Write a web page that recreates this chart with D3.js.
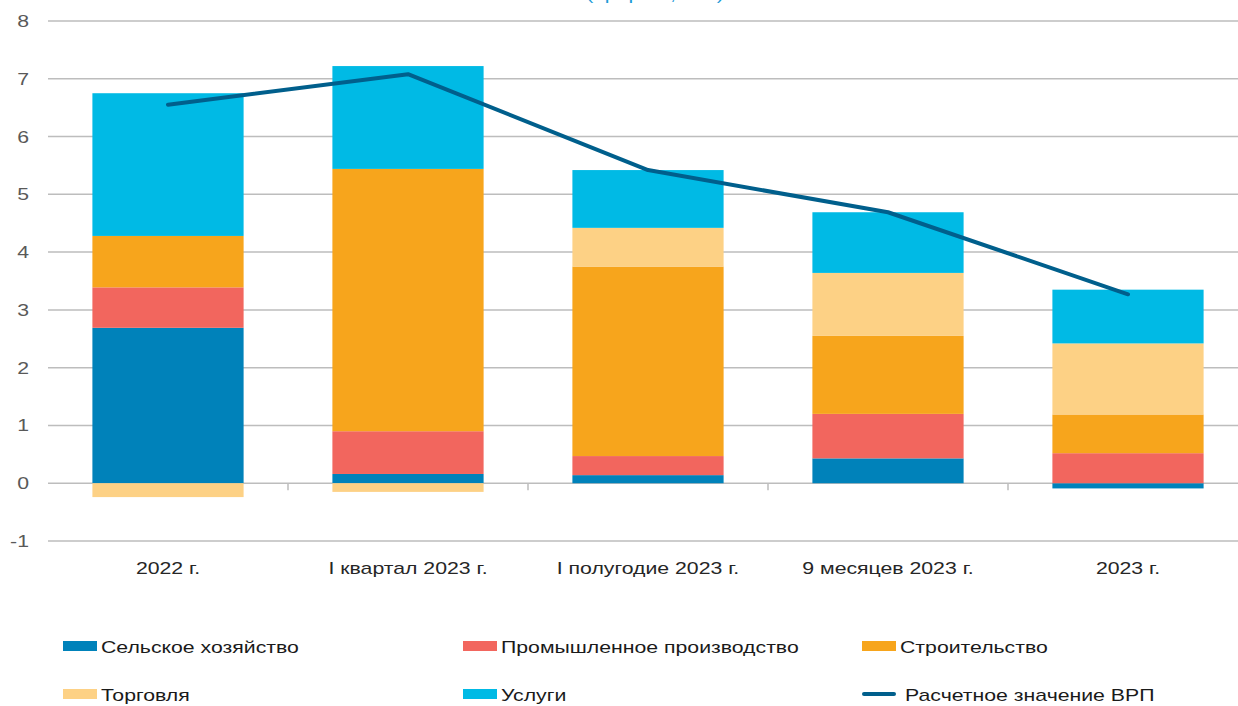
<!DOCTYPE html>
<html>
<head>
<meta charset="utf-8">
<script src="https://cdn.jsdelivr.net/npm/d3@7"></script>
<style>
  body { margin: 0; background: #fff; }
  svg { display: block; font-family: 'Liberation Sans', Arial, sans-serif; }
</style>
</head>
<body>
<div id="chart"></div>
<script>
// Periods on the x axis
const periods = ['2022 г.', 'I квартал 2023 г.', 'I полугодие 2023 г.', '9 месяцев 2023 г.', '2023 г.']

// Contributions by sector, p.p.
const agriculture = [2.69, 0.16, 0.14, 0.43, -0.09]
const industry = [0.70, 0.74, 0.33, 0.77, 0.52]
const construction = [0.89, 4.54, 3.28, 1.35, 0.67]
const trade = [-0.24, -0.15, 0.67, 1.09, 1.23]
const services = [2.47, 1.78, 1.00, 1.05, 0.93]

// Estimated GRP growth
const grp = [6.55, 7.08, 5.42, 4.69, 3.27]

const yTicks = [-1, 0, 1, 2, 3, 4, 5, 6, 7, 8]

const seriesNames = ['Сельское хозяйство', 'Промышленное производство', 'Строительство', 'Торговля', 'Услуги']
const lineName = 'Расчетное значение ВРП'
const seriesColors = ['#0082BA', '#F2665E', '#F7A51C', '#FDD185', '#00BAE5']
const lineColor = '#005F8C'

const width = 1238
const height = 706
const plot = { left: 48, right: 1248, top: 21, bottom: 541 }
const STRETCH = 1.25 // the source text is drawn wide

const svg = d3.select('#chart').append('svg')
  .attr('width', width)
  .attr('height', height)

// title, mostly cut off at the top edge in the source
svg.append('text')
  .attr('transform', `translate(655,0) scale(${STRETCH},1)`)
  .attr('text-anchor', 'middle')
  .style('font-size', '17px')
  .style('fill', '#1E9BD7')
  .text('(прирост, п.п.)')

const x = d3.scaleBand()
  .domain(periods)
  .range([plot.left, plot.right])
  .paddingInner(0.37)
  .paddingOuter(0.185)

const y = d3.scaleLinear()
  .domain([-1, 8])
  .range([plot.bottom, plot.top])

// --- GRID ---
svg.append('g')
  .selectAll('line')
  .data(yTicks)
  .enter().append('line')
  .attr('x1', plot.left)
  .attr('x2', width)
  .attr('y1', d => y(d))
  .attr('y2', d => y(d))
  .style('stroke', '#BDBDBD')
  .style('stroke-width', 1.5)

svg.append('g')
  .selectAll('text')
  .data(yTicks)
  .enter().append('text')
  .attr('transform', d => `translate(29,${y(d) + 6}) scale(${STRETCH},1)`)
  .attr('text-anchor', 'end')
  .style('font-size', '17px')
  .style('fill', '#595959')
  .text(d => d)

// --- BARS ---
const rows = periods.map((p, i) => ({
  period: p,
  s0: agriculture[i],
  s1: industry[i],
  s2: construction[i],
  s3: trade[i],
  s4: services[i]
}))

const stack = d3.stack()
  .keys(['s0', 's1', 's2', 's3', 's4'])
  .offset(d3.stackOffsetDiverging)

const layers = stack(rows)

svg.append('g')
  .selectAll('g')
  .data(layers)
  .enter().append('g')
  .style('fill', (d, i) => seriesColors[i])
  .selectAll('rect')
  .data(d => d)
  .enter().append('rect')
  .attr('x', d => x(d.data.period))
  .attr('width', x.bandwidth())
  .attr('y', d => y(Math.max(d[0], d[1])))
  .attr('height', d => Math.abs(y(d[0]) - y(d[1])))

// category ticks on the zero line
const bounds = periods.slice(1).map(p => x(p) - x.step() * x.paddingInner() / 2)
svg.append('g')
  .selectAll('line')
  .data(bounds)
  .enter().append('line')
  .attr('x1', d => d)
  .attr('x2', d => d)
  .attr('y1', y(0))
  .attr('y2', y(0) + 7)
  .style('stroke', '#BDBDBD')
  .style('stroke-width', 1.5)

// --- LINE ---
const line = d3.line()
  .x((d, i) => x(periods[i]) + x.bandwidth() / 2)
  .y(d => y(d))

svg.append('path')
  .datum(grp)
  .attr('d', line)
  .style('fill', 'none')
  .style('stroke', lineColor)
  .style('stroke-width', 4)
  .style('stroke-linecap', 'round')
  .style('stroke-linejoin', 'round')

// --- X LABELS ---
svg.append('g')
  .selectAll('text')
  .data(periods)
  .enter().append('text')
  .attr('transform', d => `translate(${x(d) + x.bandwidth() / 2},574) scale(${STRETCH},1)`)
  .attr('text-anchor', 'middle')
  .style('font-size', '17px')
  .style('fill', '#262626')
  .text(d => d)

// --- LEGEND ---
const legendItems = seriesNames.map((n, i) => ({ name: n, color: seriesColors[i], type: 'bar' }))
legendItems.push({ name: lineName, color: lineColor, type: 'line' })
const colX = [63, 463, 862]
const rowY = [646, 694]

const legend = svg.append('g')
  .selectAll('g')
  .data(legendItems)
  .enter().append('g')
  .attr('transform', (d, i) => `translate(${colX[i % 3]},${rowY[Math.floor(i / 3)]})`)

legend.filter(d => d.type === 'bar').append('rect')
  .attr('x', 0)
  .attr('y', -5)
  .attr('width', 34)
  .attr('height', 10)
  .style('fill', d => d.color)

legend.filter(d => d.type === 'line').append('line')
  .attr('x1', 2)
  .attr('x2', 32)
  .attr('y1', 0)
  .attr('y2', 0)
  .style('stroke', d => d.color)
  .style('stroke-width', 4)
  .style('stroke-linecap', 'round')

legend.append('text')
  .attr('transform', d => `translate(${d.type === 'line' ? 43 : 38},7) scale(${STRETCH},1)`)
  .style('font-size', '17px')
  .style('fill', '#1A1A1A')
  .text(d => d.name)
</script>
</body>
</html>
